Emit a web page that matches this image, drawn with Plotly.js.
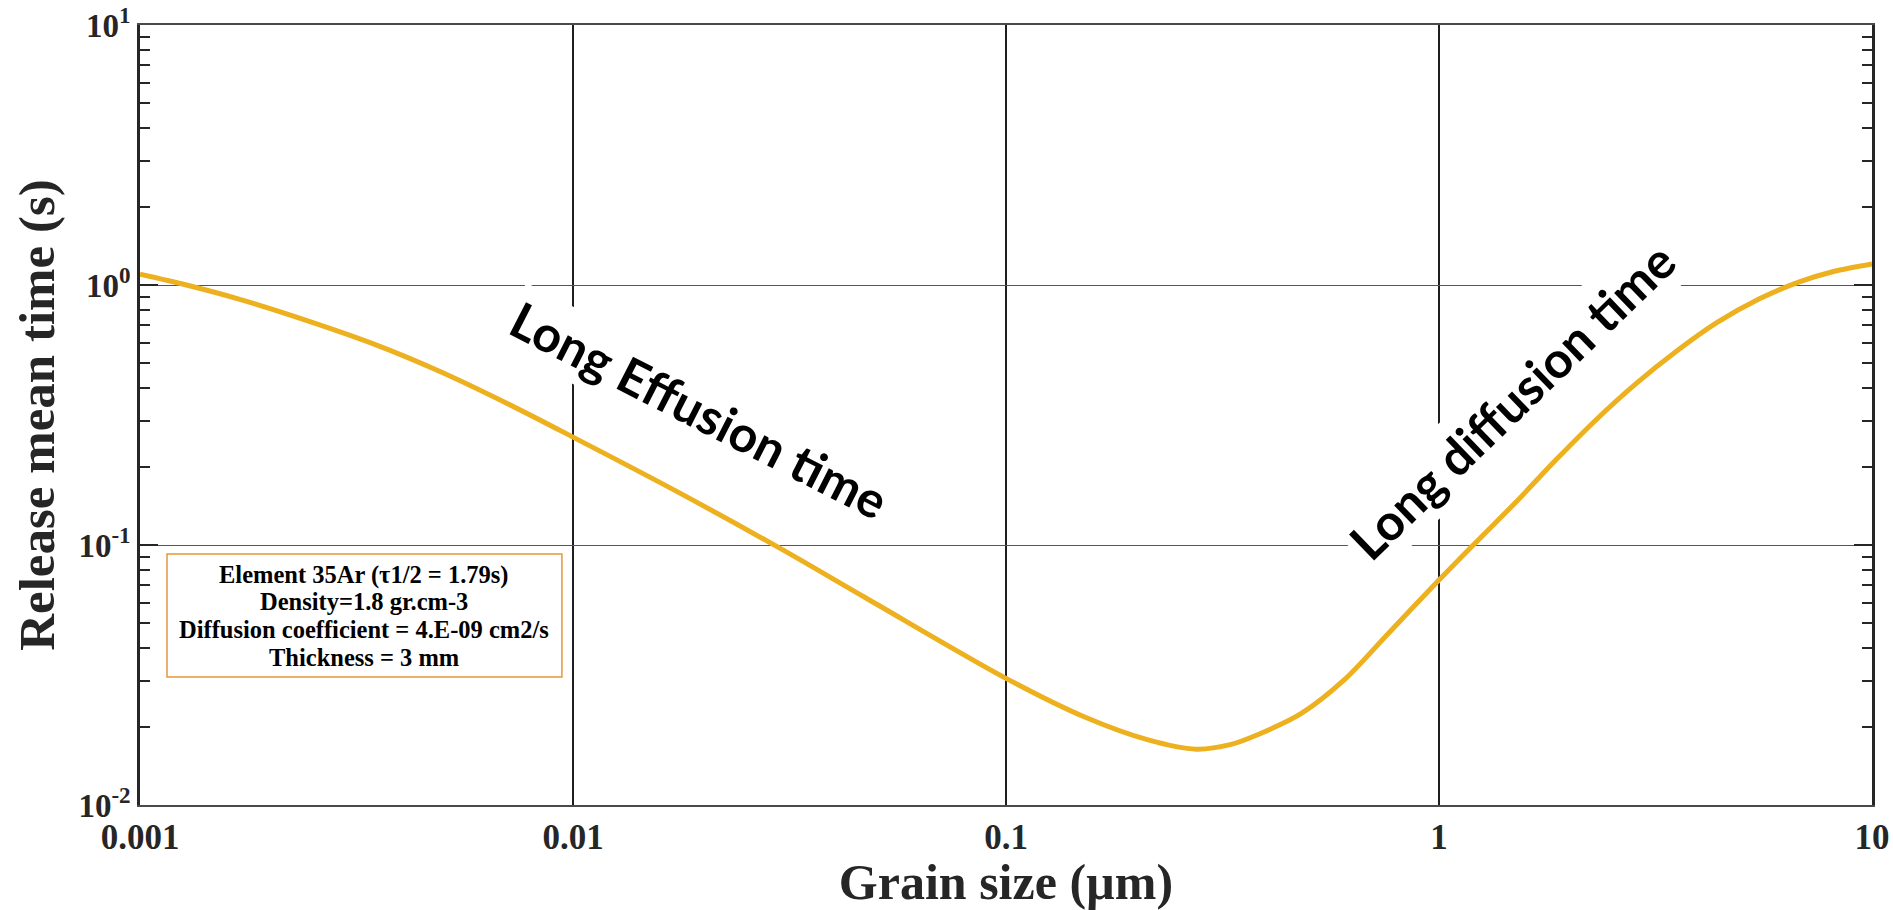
<!DOCTYPE html>
<html>
<head>
<meta charset="utf-8">
<script src="https://cdn.plot.ly/plotly-3.0.1.min.js"></script>
<style>
  html, body { margin: 0; padding: 0; background: #ffffff; }
  #chart { width: 1893px; height: 910px; }
</style>
</head>
<body>
<div id="chart"></div>
<script>
// Mean release time versus grain size (log–log)
const grainSize = [0.001, 0.00128, 0.0017, 0.00243, 0.00346, 0.00493, 0.00703, 0.01,
  0.0177, 0.0301, 0.0476, 0.1, 0.151, 0.213, 0.275, 0.331, 0.380, 0.479, 0.603, 0.759,
  1.0, 1.2, 1.51, 1.87, 2.31, 2.86, 3.54, 4.38, 5.51, 6.82, 8.15, 10];
const releaseTime = [1.10, 1.00, 0.881, 0.730, 0.594, 0.465, 0.351, 0.260,
  0.158, 0.0970, 0.0624, 0.0307, 0.0219, 0.0178, 0.0164, 0.0171, 0.0186, 0.0224, 0.0302, 0.0452,
  0.0733, 0.100, 0.147, 0.214, 0.304, 0.419, 0.557, 0.716, 0.887, 1.03, 1.127, 1.205];

const xTickVals = [0.001, 0.01, 0.1, 1, 10];
const xTickText = ['0.001', '0.01', '0.1', '1', '10'];
const yTickVals = [0.01, 0.1, 1, 10];
const yTickText = ['10<sup>-2</sup>', '10<sup>-1</sup>', '10<sup>0</sup>', '10<sup>1</sup>'];

const infoLines = [
  'Element 35Ar (τ1/2 = 1.79s)',
  'Density=1.8 gr.cm-3',
  'Diffusion coefficient = 4.E-09 cm2/s',
  'Thickness = 3 mm'
];
const regionLabels = ['Long Effusion time', 'Long diffusion time'];

// minor ticks at 2..9 within each decade of the y range
const yMinorVals = [];
[0.01, 0.1, 1].forEach(function (d) {
  for (let k = 2; k <= 9; k++) yMinorVals.push(k * d);
});

const serif = 'Liberation Serif, Times New Roman, serif';
const labelFont = 'Lato, Open Sans, sans-serif';
const axisInk = '#262626';

const trace = {
  x: grainSize,
  y: releaseTime,
  type: 'scatter',
  mode: 'lines',
  line: { color: '#EDB120', width: 5, shape: 'spline', smoothing: 0.9 },
  hoverinfo: 'skip'
};

// parameter box: frame in paper units, one text row per line
const infoBox = { x0: 0.0156, x1: 0.2436, y0: 0.1641, y1: 0.3218 };
const infoRowY = [0.2949, 0.2603, 0.2244, 0.1885];
const infoCenterX = (infoBox.x0 + infoBox.x1) / 2;

const infoAnnotations = infoLines.map(function (line, i) {
  return {
    xref: 'paper', yref: 'paper',
    x: infoCenterX, y: infoRowY[i],
    xanchor: 'center', yanchor: 'middle',
    text: line,
    showarrow: false,
    font: { family: serif, size: 24.5, color: '#000000', weight: 'bold' }
  };
});

const layout = {
  width: 1893,
  height: 910,
  margin: { l: 140, r: 21, t: 25, b: 105 },
  paper_bgcolor: '#ffffff',
  plot_bgcolor: '#ffffff',
  showlegend: false,
  xaxis: {
    type: 'log',
    range: [-3, 1],
    tickmode: 'array',
    tickvals: xTickVals,
    ticktext: xTickText,
    ticks: '',
    showgrid: true,
    gridcolor: '#1e1e1e',
    gridwidth: 1.5,
    showline: true,
    linecolor: '#4a4a4a',
    linewidth: 1.5,
    mirror: true,
    zeroline: false,
    automargin: false,
    tickfont: { family: serif, size: 35, color: axisInk, weight: 'bold' },
    title: {
      text: 'Grain size (µm)',
      font: { family: serif, size: 50, color: axisInk, weight: 'bold' },
      standoff: 6
    }
  },
  yaxis: {
    type: 'log',
    range: [-2, 1],
    tickmode: 'array',
    tickvals: yTickVals,
    ticktext: yTickText,
    ticks: 'inside',
    ticklen: 18,
    tickwidth: 2,
    tickcolor: axisInk,
    showline: true,
    linecolor: axisInk,
    linewidth: 2.5,
    mirror: 'ticks',
    showgrid: true,
    gridcolor: '#555555',
    gridwidth: 1,
    zeroline: false,
    automargin: false,
    minor: {
      tickmode: 'array',
      tickvals: yMinorVals,
      ticks: 'inside',
      ticklen: 10,
      tickwidth: 2,
      tickcolor: axisInk,
      showgrid: false
    },
    tickfont: { family: serif, size: 33, color: axisInk, weight: 'bold' },
    title: {
      text: 'Release mean time (s)',
      font: { family: serif, size: 51, color: axisInk, weight: 'bold' },
      standoff: 8
    }
  },
  shapes: [
    {
      type: 'rect',
      xref: 'paper', yref: 'paper',
      x0: infoBox.x0, x1: infoBox.x1, y0: infoBox.y0, y1: infoBox.y1,
      line: { color: '#E8963A', width: 1.5 },
      fillcolor: '#ffffff',
      layer: 'above'
    }
  ],
  annotations: infoAnnotations.concat([
    {
      xref: 'paper', yref: 'paper',
      x: 0.3233, y: 0.5064,
      xanchor: 'center', yanchor: 'middle',
      text: regionLabels[0],
      textangle: 27,
      showarrow: false,
      font: { family: labelFont, size: 50, color: '#000000', weight: 'bold' },
      bgcolor: '#ffffff',
      borderpad: 4
    },
    {
      xref: 'paper', yref: 'paper',
      x: 0.792, y: 0.518,
      xanchor: 'center', yanchor: 'middle',
      text: regionLabels[1],
      textangle: -44,
      showarrow: false,
      font: { family: labelFont, size: 50, color: '#000000', weight: 'bold' },
      bgcolor: '#ffffff',
      borderpad: 4
    }
  ])
};

Plotly.newPlot('chart', [trace], layout, { displayModeBar: false, responsive: false });
</script>
</body>
</html>
